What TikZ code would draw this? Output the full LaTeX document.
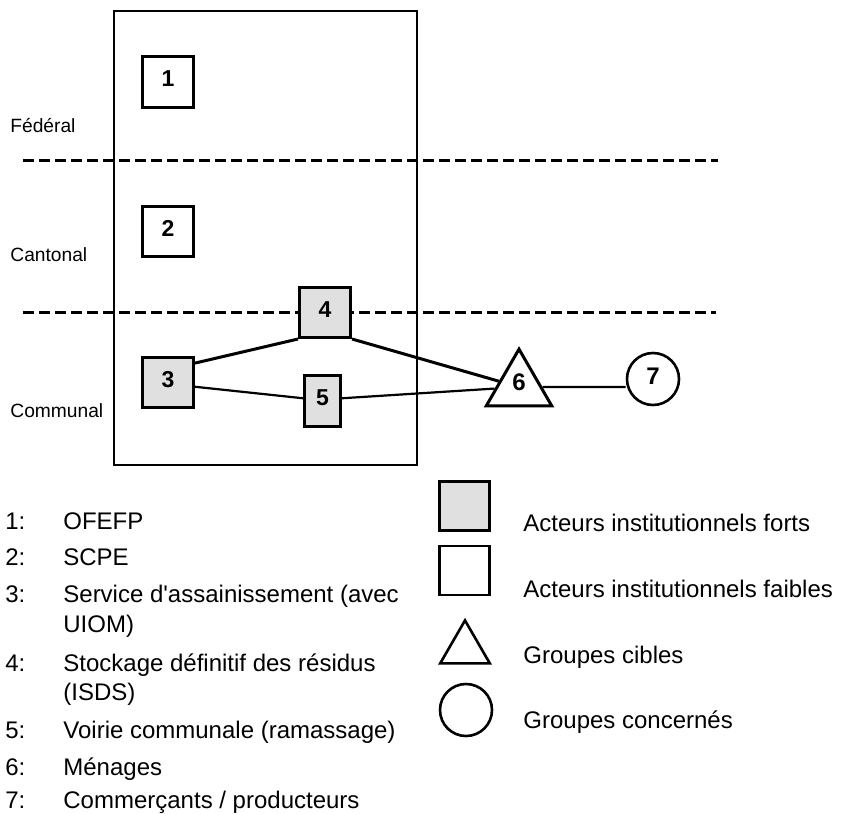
\documentclass[tikz,border=0pt]{standalone}
\usepackage{fontspec}
\setmainfont{Liberation Sans}
\usetikzlibrary{shapes.geometric}
\definecolor{strongfill}{RGB}{224,224,224}
\begin{document}
\begin{tikzpicture}[x=0.5pt,y=-0.5pt,
  lvl/.style={anchor=base west,inner sep=0pt,font=\fontsize{9.6}{11}\selectfont},
  item/.style={anchor=base west,inner sep=0pt,font=\fontsize{12}{14}\selectfont},
  actor/.style={draw,line width=1.5pt,rectangle,inner sep=0pt,text depth=3pt,
    minimum width=25.5pt,minimum height=25pt,font=\fontsize{11.5}{13}\selectfont\bfseries},
  strong/.style={actor,fill=strongfill},
  weak/.style={actor,fill=white},
  target/.style={draw,line width=1.5pt,regular polygon,regular polygon sides=3,
    inner sep=0pt,minimum size=34pt,text depth=5pt,fill=white,
    font=\fontsize{12}{14}\selectfont\bfseries},
  concerned/.style={draw,line width=1.3pt,circle,inner sep=0pt,minimum size=26pt,
    text depth=3pt,fill=white,font=\fontsize{12}{14}\selectfont\bfseries},
  levelline/.style={line width=1.5pt,dash pattern=on 5.25pt off 2.75pt},
  thick link/.style={line width=1.5pt},
  thin link/.style={line width=1.1pt},
  keybox/.style={draw,line width=1.3pt,rectangle,inner sep=0pt,
    minimum width=25pt,minimum height=24.5pt}]
\useasboundingbox (0,0) rectangle (844,813);

% administrative levels
\draw[line width=1.3pt] (114,11) rectangle (417,465);
\coordinate (d1w) at (23,160);  \coordinate (d1e) at (718,160);
\coordinate (d2w) at (23,312);  \coordinate (d2e) at (716,312);
\draw[levelline] (d1w) -- (d1e);
\draw[levelline] (d2w) -- (d2e);
\node[lvl] (fed) at (10,133) {Fédéral};
\node[lvl] (can) at (10,261) {Cantonal};
\node[lvl] (com) at (10,417) {Communal};

% actors
\node[weak]   (n1) at (168,82)    {1};
\node[weak]   (n2) at (168,231.5) {2};
\node[strong] (n3) at (168,382)   {3};
\node[strong] (n4) at (325,312.5) {4};
\node[strong,minimum width=18pt,minimum height=25.5pt] (n5) at (322.5,401) {5};
\node[target] (n6) at (519,387) {6};
\node[concerned] (n7) at (653,379) {7};

% relations
\draw[thick link] (n3.35) -- (n4.south west);
\draw[thick link] (n4.south east) -- (n6);
\draw[thin link] (n3.-10) -- (n5.172);
\draw[thin link] (n5.8) -- (n6);
\draw[thin link] (n6) -- (n6 -| n7.west);

% numbered list
\node[item] (k1) at (5,529) {1:};   \node[item] (t1) at (63,529) {OFEFP};
\node[item] (k2) at (5,565) {2:};   \node[item] (t2) at (63,565) {SCPE};
\node[item] (k3) at (5,602) {3:};   \node[item] (t3) at (63,602) {Service d\textquotesingle assainissement (avec};
\node[item] (t3b) at (63,632) {UIOM)};
\node[item] (k4) at (5,671) {4:};   \node[item] (t4) at (63,671) {Stockage définitif des résidus};
\node[item] (t4b) at (63,700) {(ISDS)};
\node[item] (k5) at (5,738) {5:};   \node[item] (t5) at (63,738) {Voirie communale (ramassage)};
\node[item] (k6) at (5,775) {6:};   \node[item] (t6) at (63,775) {Ménages};
\node[item] (k7) at (5,808) {7:};   \node[item] (t7) at (63,808) {Commerçants / producteurs};

% symbol key
\node[keybox,fill=strongfill] (s1) at (464.5,506) {};
\node[keybox,fill=white] (s2) at (464.5,570.5) {};
\node[draw,line width=1.3pt,regular polygon,regular polygon sides=3,inner sep=0pt,
  minimum size=28.6pt] (s3) at (465,649) {};
\node[draw,line width=1.3pt,circle,inner sep=0pt,minimum size=26pt] (s4) at (466,710) {};
\node[item] (l1) at (523,531) {Acteurs institutionnels forts};
\node[item] (l2) at (523,597) {Acteurs institutionnels faibles};
\node[item] (l3) at (523,663) {Groupes cibles};
\node[item] (l4) at (523,728) {Groupes concernés};
\end{tikzpicture}
\end{document}
